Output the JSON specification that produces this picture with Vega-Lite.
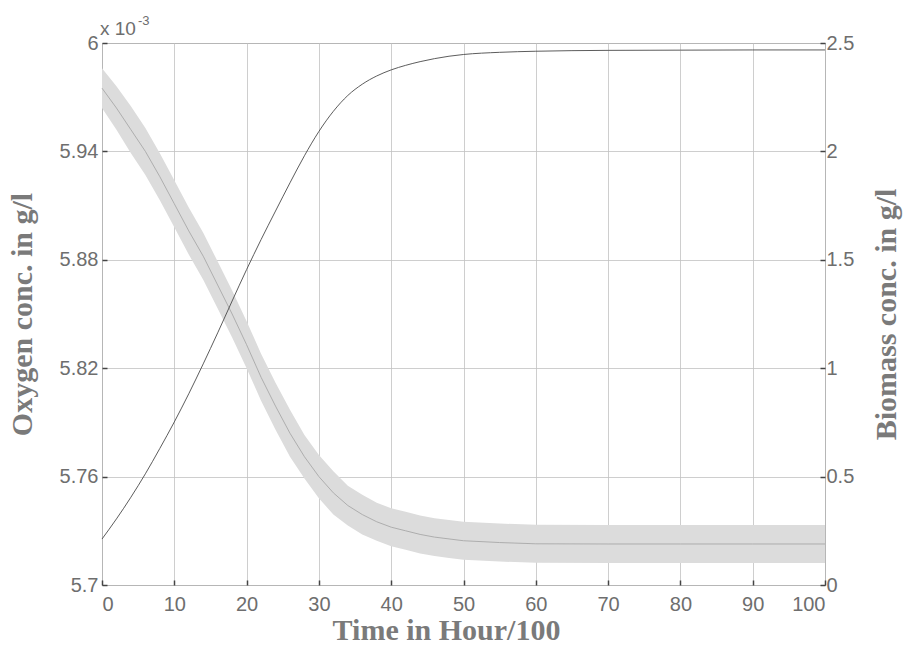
{
  "$schema": "https://vega.github.io/schema/vega-lite/v6.json",
  "width": 723,
  "height": 542,
  "autosize": {"type": "none"},
  "padding": {"left": 102, "top": 43, "right": 80, "bottom": 61},
  "background": "#ffffff",
  "config": {
    "view": {"stroke": "#8a8a8a", "strokeWidth": 1},
    "axis": {
      "labelFont": "Liberation Sans",
      "labelFontSize": 20,
      "labelColor": "#6e6e6e",
      "titleFont": "Liberation Serif",
      "titleFontWeight": "bold",
      "titleFontSize": 30,
      "titleColor": "#7a7a7a",
      "domain": false,
      "tickColor": "#444444",
      "tickSize": -5,
      "tickWidth": 1.5,
      "gridColor": "#c2c2c2",
      "gridWidth": 0.8
    }
  },
  "datasets": {
    "series": [
      {"t": 0, "o_lo": 5.964, "o_hi": 5.986, "o_mid": 5.975, "b": 0.212},
      {"t": 2, "o_lo": 5.952, "o_hi": 5.976, "o_mid": 5.964, "b": 0.305},
      {"t": 4, "o_lo": 5.939, "o_hi": 5.965, "o_mid": 5.952, "b": 0.405},
      {"t": 6, "o_lo": 5.927, "o_hi": 5.953, "o_mid": 5.940, "b": 0.513},
      {"t": 8, "o_lo": 5.913, "o_hi": 5.939, "o_mid": 5.926, "b": 0.630},
      {"t": 10, "o_lo": 5.898, "o_hi": 5.924, "o_mid": 5.911, "b": 0.752},
      {"t": 12, "o_lo": 5.883, "o_hi": 5.909, "o_mid": 5.896, "b": 0.882},
      {"t": 14, "o_lo": 5.869, "o_hi": 5.895, "o_mid": 5.882, "b": 1.020},
      {"t": 16, "o_lo": 5.853, "o_hi": 5.879, "o_mid": 5.866, "b": 1.163},
      {"t": 18, "o_lo": 5.837, "o_hi": 5.863, "o_mid": 5.850, "b": 1.310},
      {"t": 20, "o_lo": 5.820, "o_hi": 5.846, "o_mid": 5.833, "b": 1.455},
      {"t": 22, "o_lo": 5.802, "o_hi": 5.828, "o_mid": 5.815, "b": 1.593},
      {"t": 24, "o_lo": 5.786, "o_hi": 5.812, "o_mid": 5.799, "b": 1.725},
      {"t": 26, "o_lo": 5.771, "o_hi": 5.797, "o_mid": 5.784, "b": 1.855},
      {"t": 28, "o_lo": 5.759, "o_hi": 5.783, "o_mid": 5.771, "b": 1.980},
      {"t": 30, "o_lo": 5.748, "o_hi": 5.772, "o_mid": 5.760, "b": 2.092},
      {"t": 32, "o_lo": 5.739, "o_hi": 5.763, "o_mid": 5.751, "b": 2.185},
      {"t": 34, "o_lo": 5.733, "o_hi": 5.755, "o_mid": 5.744, "b": 2.258},
      {"t": 36, "o_lo": 5.728, "o_hi": 5.750, "o_mid": 5.739, "b": 2.310},
      {"t": 38, "o_lo": 5.7245, "o_hi": 5.7455, "o_mid": 5.735, "b": 2.348},
      {"t": 40, "o_lo": 5.7215, "o_hi": 5.7425, "o_mid": 5.732, "b": 2.376},
      {"t": 42, "o_lo": 5.7195, "o_hi": 5.7405, "o_mid": 5.730, "b": 2.397},
      {"t": 44, "o_lo": 5.7175, "o_hi": 5.7385, "o_mid": 5.728, "b": 2.414},
      {"t": 46, "o_lo": 5.716, "o_hi": 5.737, "o_mid": 5.7265, "b": 2.428},
      {"t": 48, "o_lo": 5.715, "o_hi": 5.736, "o_mid": 5.7255, "b": 2.439},
      {"t": 50, "o_lo": 5.714, "o_hi": 5.735, "o_mid": 5.7245, "b": 2.447},
      {"t": 55, "o_lo": 5.713, "o_hi": 5.734, "o_mid": 5.7235, "b": 2.457},
      {"t": 60, "o_lo": 5.7123, "o_hi": 5.7333, "o_mid": 5.7228, "b": 2.462},
      {"t": 70, "o_lo": 5.7122, "o_hi": 5.7332, "o_mid": 5.7227, "b": 2.466},
      {"t": 80, "o_lo": 5.7122, "o_hi": 5.7332, "o_mid": 5.7227, "b": 2.467},
      {"t": 90, "o_lo": 5.7122, "o_hi": 5.7332, "o_mid": 5.7227, "b": 2.468},
      {"t": 100, "o_lo": 5.7122, "o_hi": 5.7332, "o_mid": 5.7227, "b": 2.468}
    ],
    "notes": [
      {"t": 0, "v": 6, "base": "x 10", "exp": "-3"}
    ]
  },
  "layer": [
    {
      "layer": [
        {
          "data": {"name": "series"},
          "mark": {"type": "area", "color": "#dcdcdc", "opacity": 1},
          "encoding": {
            "x": {
              "field": "t",
              "type": "quantitative",
              "scale": {"domain": [0, 100], "nice": false, "zero": false},
              "axis": {
                "orient": "bottom",
                "values": [0, 10, 20, 30, 40, 50, 60, 70, 80, 90, 100],
                "grid": true,
                "labelPadding": 14,
                "title": "Time in Hour/100",
                "titleX": 344,
                "titleY": 45,
                "titleAlign": "center",
                "titleBaseline": "middle"
              }
            },
            "y": {
              "field": "o_lo",
              "type": "quantitative",
              "scale": {"domain": [5.7, 6.0], "nice": false, "zero": false},
              "axis": {
                "orient": "left",
                "values": [5.7, 5.76, 5.82, 5.88, 5.94, 6.0],
                "format": ".3~f",
                "grid": true,
                "labelPadding": 9,
                "title": "Oxygen conc. in g/l",
                "titleAngle": -90,
                "titleX": -80,
                "titleY": 271,
                "titleAlign": "center",
                "titleBaseline": "middle"
              }
            },
            "y2": {"field": "o_hi"}
          }
        },
        {
          "data": {"name": "series"},
          "mark": {"type": "line", "color": "#a8a8a8", "strokeWidth": 0.9},
          "encoding": {
            "x": {"field": "t", "type": "quantitative"},
            "y": {"field": "o_mid", "type": "quantitative"}
          }
        },
        {
          "data": {"name": "notes"},
          "mark": {"type": "text", "align": "left", "baseline": "alphabetic", "dx": -2, "dy": -8, "font": "Liberation Sans", "fontSize": 19, "color": "#6e6e6e"},
          "encoding": {
            "x": {"field": "t", "type": "quantitative"},
            "y": {"field": "v", "type": "quantitative"},
            "text": {"field": "base"}
          }
        },
        {
          "data": {"name": "notes"},
          "mark": {"type": "text", "align": "left", "baseline": "alphabetic", "dx": 36, "dy": -18, "font": "Liberation Sans", "fontSize": 13, "color": "#6e6e6e"},
          "encoding": {
            "x": {"field": "t", "type": "quantitative"},
            "y": {"field": "v", "type": "quantitative"},
            "text": {"field": "exp"}
          }
        }
      ]
    },
    {
      "data": {"name": "series"},
      "mark": {"type": "line", "color": "#4a4a4a", "strokeWidth": 0.9, "interpolate": "monotone"},
      "encoding": {
        "x": {"field": "t", "type": "quantitative"},
        "y": {
          "field": "b",
          "type": "quantitative",
          "scale": {"domain": [0, 2.5], "nice": false, "zero": false},
          "axis": {
            "orient": "right",
            "values": [0, 0.5, 1, 1.5, 2, 2.5],
            "format": ".1~f",
            "grid": false,
            "labelPadding": 6,
            "title": "Biomass conc. in g/l",
            "titleAngle": -90,
            "titleX": 61,
            "titleY": 271,
            "titleAlign": "center",
            "titleBaseline": "middle"
          }
        }
      }
    }
  ],
  "resolve": {"scale": {"y": "independent"}}
}
